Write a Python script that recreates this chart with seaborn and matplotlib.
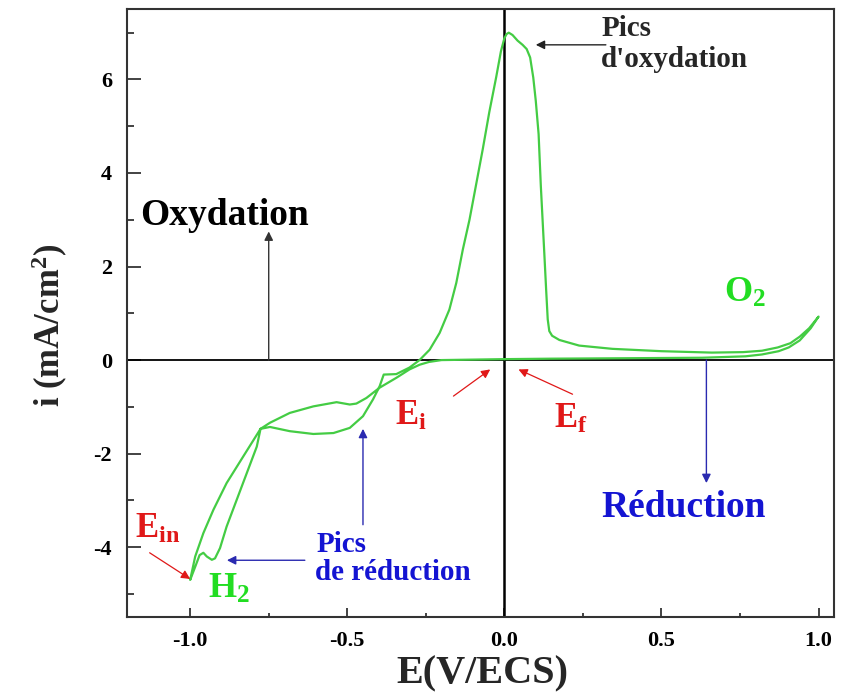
import numpy as np
import pandas as pd
import matplotlib
matplotlib.use("Agg")
import matplotlib.pyplot as plt
import seaborn as sns

# ---- data ----
# cathodic scan from E_i (0 V) to E_in (-1 V)
E_fwd = [0.0, -0.1, -0.2, -0.24, -0.27, -0.302, -0.344, -0.397, -0.439, -0.471,
         -0.492, -0.534, -0.608, -0.683, -0.746, -0.776, -0.831, -0.884, -0.926,
         -0.958, -0.984, -1.0]
i_fwd = [0.02, 0.01, 0.0, -0.04, -0.1, -0.2, -0.38, -0.59, -0.81, -0.93,
         -0.95, -0.9, -0.99, -1.13, -1.34, -1.47, -2.06, -2.63, -3.2,
         -3.7, -4.2, -4.7]
# anodic scan from -1 V to +1 V
E_ret = [-0.984, -0.97, -0.958, -0.947, -0.931, -0.921, -0.905, -0.884, -0.852,
         -0.82, -0.788, -0.776, -0.746, -0.683, -0.608, -0.544, -0.492, -0.45,
         -0.418, -0.397, -0.384, -0.344, -0.302, -0.27, -0.238, -0.206, -0.175,
         -0.153, -0.132, -0.111, -0.09, -0.069, -0.048, -0.026, -0.011, 0.0,
         0.007, 0.014, 0.026, 0.042, 0.058, 0.071, 0.082, 0.092, 0.1, 0.109,
         0.116, 0.127, 0.133, 0.138, 0.143, 0.152, 0.175, 0.238, 0.344, 0.5,
         0.66, 0.76, 0.82, 0.87, 0.91, 0.94, 0.97, 1.0]
i_ret = [-4.42, -4.17, -4.12, -4.2, -4.27, -4.24, -4.02, -3.56, -2.99,
         -2.42, -1.85, -1.47, -1.43, -1.52, -1.58, -1.56, -1.45, -1.2,
         -0.84, -0.56, -0.31, -0.3, -0.16, 0.0, 0.22, 0.58, 1.08,
         1.65, 2.37, 3.0, 3.75, 4.5, 5.3, 6.05, 6.6, 6.88,
         6.97, 7.0, 6.95, 6.83, 6.74, 6.65, 6.47, 6.04, 5.54, 4.83,
         3.73, 2.3, 1.5, 0.87, 0.62, 0.52, 0.43, 0.31, 0.24, 0.19,
         0.16, 0.17, 0.2, 0.27, 0.36, 0.5, 0.68, 0.93]
# cathodic scan from +1 V back to E_f (0 V)
E_back = [0.975, 0.94, 0.905, 0.873, 0.82, 0.767, 0.63, 0.4, 0.15, 0.0]
i_back = [0.68, 0.42, 0.27, 0.19, 0.12, 0.08, 0.05, 0.04, 0.03, 0.02]

x_ticks = [-1.0, -0.5, 0.0, 0.5, 1.0]
x_ticklabels = ["-1.0", "-0.5", "0.0", "0.5", "1.0"]
y_ticks = [-4, -2, 0, 2, 4, 6]
y_ticklabels = ["-4", "-2", "0", "2", "4", "6"]

df = pd.DataFrame({
    "E": E_fwd + E_ret + E_back,
    "i": i_fwd + i_ret + i_back,
})

# ---- style ----
sns.set_theme(style="ticks")
plt.rcParams["font.family"] = ["Liberation Serif", "DejaVu Serif"]
plt.rcParams["font.weight"] = "bold"
plt.rcParams["mathtext.fontset"] = "custom"
plt.rcParams["mathtext.rm"] = "Liberation Serif:bold"
plt.rcParams["mathtext.bf"] = "Liberation Serif:bold"
plt.rcParams["mathtext.it"] = "Liberation Serif:bold"
plt.rcParams["axes.unicode_minus"] = False

GREEN = "#44cc44"
TGREEN = "#22dd22"
RED = "#e01818"
BLUE = "#1414d2"
ABLUE = "#2a2ab0"

fig = plt.figure(figsize=(8.41, 6.93), dpi=100)
ax = fig.add_axes([0.1514, 0.1092, 0.8406, 0.8774])

sns.lineplot(data=df, x="E", y="i", sort=False, estimator=None, ax=ax,
             color=GREEN, lw=1.6)

ax.set_xlim(-1.2, 1.05)
ax.set_ylim(-5.5, 7.5)
ax.axhline(0, color="black", lw=1.3, zorder=1)
ax.axvline(0, color="black", lw=1.8, zorder=1)

ax.set_xticks(x_ticks)
ax.set_xticklabels(x_ticklabels)
ax.set_yticks(y_ticks)
ax.set_yticklabels(y_ticklabels)
ax.set_xticks([-0.75, -0.25, 0.25, 0.75], minor=True)
ax.set_yticks([-5, -3, -1, 1, 3, 5, 7], minor=True)
ax.tick_params(axis="x", which="major", direction="in", length=6.5, width=1.2,
               labelsize=16, pad=10, colors="#222222")
ax.tick_params(axis="x", which="minor", direction="in", length=3, width=1.2,
               colors="#222222")
ax.tick_params(axis="y", which="major", direction="in", length=10, width=1.2,
               labelsize=16, pad=11, colors="#222222")
ax.tick_params(axis="y", which="minor", direction="in", length=5, width=1.2,
               colors="#222222")
for lab in ax.get_xticklabels() + ax.get_yticklabels():
    lab.set_fontweight("bold")
    lab.set_color("black")
for s in ax.spines.values():
    s.set_visible(True)
    s.set_linewidth(1.5)
    s.set_color("#333333")

ax.set_xlabel("E(V/ECS)", fontsize=29, fontweight="bold", va="top")
ax.xaxis.set_label_coords(0.502, -0.062)
ax.set_ylabel("i (mA/cm$^2$)", fontsize=25, fontweight="bold")
ax.yaxis.set_label_coords(-0.081, 0.48)

# ---- annotations ----
def arrow(x0, y0, x1, y1, color, lw=1.0):
    ax.annotate("", xy=(x1, y1), xytext=(x0, y0),
                arrowprops=dict(arrowstyle="-|>", color=color, lw=lw,
                                mutation_scale=13, shrinkA=0, shrinkB=0))

ax.text(-1.159, 2.88, "Oxydation", fontsize=27, fontweight="bold",
        color="black", va="baseline")
arrow(-0.75, 0.0, -0.75, 2.75, "#333333")

ax.text(0.308, 6.92, "Pics", fontsize=21, fontweight="bold", va="baseline")
ax.text(0.308, 6.27, "d'oxydation", fontsize=21, fontweight="bold", va="baseline")
arrow(0.323, 6.74, 0.1, 6.74, "#222222")

ax.text(0.698, 1.25, "O$_2$", fontsize=26, color=TGREEN, va="baseline")

ax.text(0.308, -3.35, "Réduction", fontsize=27, fontweight="bold", color=BLUE,
        va="baseline")
arrow(0.643, 0.0, 0.643, -2.63, ABLUE)

ax.text(0.159, -1.45, "E$_\\mathrm{f}$", fontsize=25, color=RED, va="baseline")
arrow(0.217, -0.73, 0.045, -0.2, RED, lw=0.9)

ax.text(-0.349, -1.38, "E$_\\mathrm{i}$", fontsize=25, color=RED, va="baseline")
arrow(-0.162, -0.77, -0.045, -0.2, RED, lw=0.9)

ax.text(-1.175, -3.8, "E$_\\mathrm{in}$", fontsize=25, color=RED, va="baseline")
arrow(-1.129, -4.12, -1.0, -4.68, RED, lw=0.9)

ax.text(-0.943, -5.09, "H$_2$", fontsize=26, color=TGREEN, va="baseline")

ax.text(-0.597, -4.1, "Pics", fontsize=21, fontweight="bold", color=BLUE,
        va="baseline")
ax.text(-0.603, -4.7, "de réduction", fontsize=21, fontweight="bold", color=BLUE,
        va="baseline")
arrow(-0.635, -4.28, -0.883, -4.28, ABLUE)
arrow(-0.45, -3.52, -0.45, -1.47, ABLUE)

fig.savefig("out.png", dpi=100)
